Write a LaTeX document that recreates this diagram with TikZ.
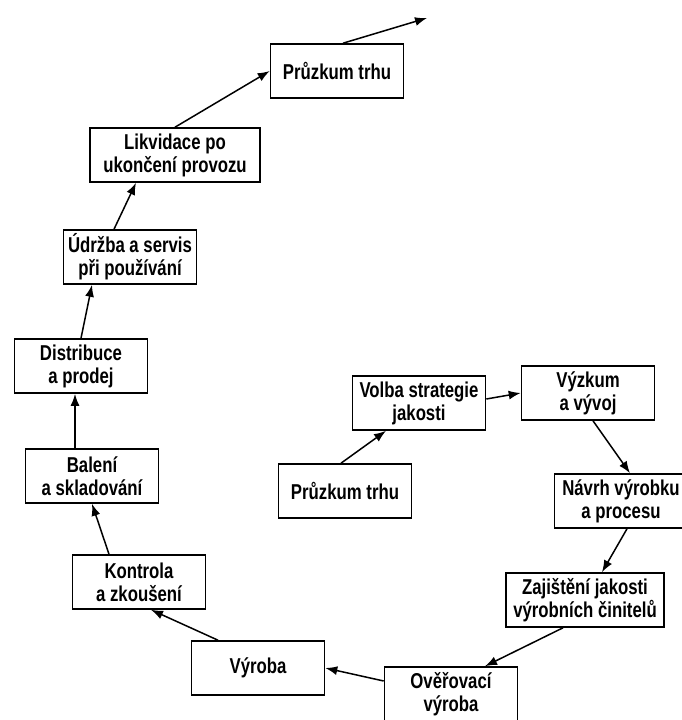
\documentclass[tikz,border=0pt]{standalone}
\usepackage{fontspec}
\setmainfont{Liberation Sans}[FakeStretch=0.78]
\usetikzlibrary{arrows.meta, positioning}

\begin{document}
\begin{tikzpicture}[
    x=1pt, y=1pt, on grid,
    box/.style={rectangle, draw, line width=1.6pt,
        minimum height=54pt, minimum width=133pt, inner sep=0pt,
        align=center, font=\bfseries\fontsize{21.5}{23}\selectfont},
    arr/.style={-{Latex[length=12pt,width=9pt]}, line width=1.5pt}
]
\useasboundingbox (0,0) rectangle (681,-720);

\node[box] (trhB) at (345,-491) {Průzkum trhu};
\node[box, above right=88pt and 74pt of trhB] (volba) {Volba strategie\\jakosti};
\node[box, above right=10pt and 169pt of volba] (vyzkum) {Výzkum\\a vývoj};
\node[box, below right=108pt and 33pt of vyzkum] (navrh) {Návrh výrobku\\a procesu};
\node[box, minimum width=158pt, below left=99pt and 36pt of navrh] (zajist) {Zajištění jakosti\\výrobních činitelů};
\node[box, below left=94pt and 134pt of zajist] (overeni) {Ověřovací\\výroba};
\node[box, above left=26pt and 193pt of overeni] (vyroba) {Výroba};
\node[box, above left=86pt and 119pt of vyroba] (kontrola) {Kontrola\\a zkoušení};
\node[box, above left=106pt and 47pt of kontrola] (baleni) {Balení\\a skladování};
\node[box, above left=110pt and 11pt of baleni] (distrib) {Distribuce\\a prodej};
\node[box, above right=109pt and 49pt of distrib] (udrzba) {Údržba a servis\\při používání};
\node[box, minimum width=170pt, above right=102pt and 45pt of udrzba] (likvid) {Likvidace po\\ukončení provozu};
\node[box, above right=84pt and 162pt of likvid] (trhA) {Průzkum trhu};
\coordinate[above right=53pt and 90pt of trhA] (dal);

\draw[arr] ([xshift=-4pt]trhB.north) -- ([xshift=-33pt]volba.south);
\draw[arr] ([yshift=4pt]volba.east) -- (vyzkum.west);
\draw[arr] ([xshift=5pt]vyzkum.south) -- ([xshift=9pt]navrh.north);
\draw[arr] ([xshift=6pt]navrh.south) -- ([xshift=17pt]zajist.north);
\draw[arr] ([xshift=-22pt]zajist.south) -- ([xshift=34pt]overeni.north);
\draw[arr] ([yshift=13pt]overeni.west) -- (vyroba.east);
\draw[arr] ([xshift=-40pt]vyroba.north) -- ([xshift=12pt]kontrola.south);
\draw[arr] ([xshift=-30pt]kontrola.north) -- (baleni.south);
\draw[arr] ([xshift=-17pt]baleni.north) -- ([xshift=-6pt]distrib.south);
\draw[arr] (distrib.north) -- ([xshift=-38pt]udrzba.south);
\draw[arr] ([xshift=-16pt]udrzba.north) -- ([xshift=-39pt]likvid.south);
\draw[arr] (likvid.north) -- (trhA.west);
\draw[arr] ([xshift=6pt]trhA.north) -- (dal);
\end{tikzpicture}
\end{document}
